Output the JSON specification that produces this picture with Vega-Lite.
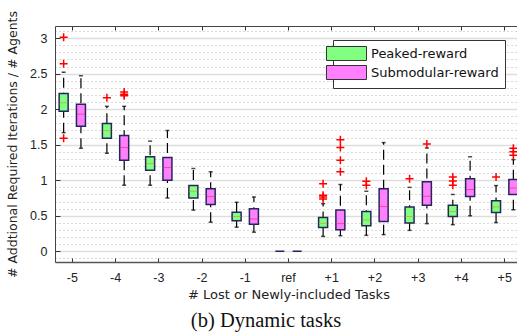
{
  "$schema": "https://vega.github.io/schema/vega-lite/v6.json",
  "width": 462,
  "height": 236,
  "autosize": {"type": "none"},
  "padding": {"left": 55, "top": 26, "right": 0, "bottom": 73},
  "background": "white",
  "config": {"view": {"stroke": null}},
  "title": {"text": "(b) Dynamic tasks", "orient": "bottom", "anchor": "middle", "font": "Liberation Serif", "fontSize": 20.5, "fontWeight": "normal", "color": "#111111", "offset": 9, "dx": -20},
  "datasets": {
    "boxes": [
      {"task": "-5", "series": "Peaked-reward", "lower": 1.67, "q1": 1.97, "median": 2.09, "q3": 2.22, "upper": 2.52},
      {"task": "-4", "series": "Peaked-reward", "lower": 1.38, "q1": 1.59, "median": 1.70, "q3": 1.80, "upper": 2.04},
      {"task": "-3", "series": "Peaked-reward", "lower": 0.93, "q1": 1.14, "median": 1.235, "q3": 1.33, "upper": 1.55},
      {"task": "-2", "series": "Peaked-reward", "lower": 0.58, "q1": 0.75, "median": 0.845, "q3": 0.925, "upper": 1.165},
      {"task": "-1", "series": "Peaked-reward", "lower": 0.34, "q1": 0.43, "median": 0.49, "q3": 0.55, "upper": 0.69},
      {"task": "ref", "series": "Peaked-reward", "lower": 0, "q1": 0, "median": 0, "q3": 0, "upper": 0},
      {"task": "+1", "series": "Peaked-reward", "lower": 0.21, "q1": 0.335, "median": 0.395, "q3": 0.475, "upper": 0.67},
      {"task": "+2", "series": "Peaked-reward", "lower": 0.225, "q1": 0.36, "median": 0.44, "q3": 0.56, "upper": 0.845},
      {"task": "+3", "series": "Peaked-reward", "lower": 0.295, "q1": 0.40, "median": 0.49, "q3": 0.625, "upper": 0.90},
      {"task": "+4", "series": "Peaked-reward", "lower": 0.375, "q1": 0.49, "median": 0.56, "q3": 0.65, "upper": 0.80},
      {"task": "+5", "series": "Peaked-reward", "lower": 0.405, "q1": 0.545, "median": 0.625, "q3": 0.71, "upper": 0.925},
      {"task": "-5", "series": "Submodular-reward", "lower": 1.45, "q1": 1.76, "median": 1.93, "q3": 2.07, "upper": 2.47},
      {"task": "-4", "series": "Submodular-reward", "lower": 0.93, "q1": 1.28, "median": 1.46, "q3": 1.63, "upper": 2.04},
      {"task": "-3", "series": "Submodular-reward", "lower": 0.75, "q1": 1.00, "median": 1.18, "q3": 1.32, "upper": 1.70},
      {"task": "-2", "series": "Submodular-reward", "lower": 0.41, "q1": 0.66, "median": 0.77, "q3": 0.88, "upper": 1.12},
      {"task": "-1", "series": "Submodular-reward", "lower": 0.27, "q1": 0.38, "median": 0.455, "q3": 0.60, "upper": 0.765},
      {"task": "ref", "series": "Submodular-reward", "lower": 0, "q1": 0, "median": 0, "q3": 0, "upper": 0},
      {"task": "+1", "series": "Submodular-reward", "lower": 0.22, "q1": 0.305, "median": 0.39, "q3": 0.58, "upper": 0.94},
      {"task": "+2", "series": "Submodular-reward", "lower": 0.235, "q1": 0.42, "median": 0.63, "q3": 0.88, "upper": 1.53},
      {"task": "+3", "series": "Submodular-reward", "lower": 0.39, "q1": 0.65, "median": 0.775, "q3": 0.98, "upper": 1.455},
      {"task": "+4", "series": "Submodular-reward", "lower": 0.50, "q1": 0.77, "median": 0.87, "q3": 1.02, "upper": 1.33},
      {"task": "+5", "series": "Submodular-reward", "lower": 0.585, "q1": 0.80, "median": 0.89, "q3": 1.01, "upper": 1.29}
    ],
    "outliers": [
      {"task": "-5", "series": "Peaked-reward", "value": 3.01},
      {"task": "-5", "series": "Peaked-reward", "value": 2.64},
      {"task": "-5", "series": "Peaked-reward", "value": 1.59},
      {"task": "-4", "series": "Peaked-reward", "value": 2.16},
      {"task": "-4", "series": "Submodular-reward", "value": 2.24},
      {"task": "-4", "series": "Submodular-reward", "value": 2.21},
      {"task": "-4", "series": "Submodular-reward", "value": 2.19},
      {"task": "+1", "series": "Peaked-reward", "value": 0.95},
      {"task": "+1", "series": "Peaked-reward", "value": 0.79},
      {"task": "+1", "series": "Peaked-reward", "value": 0.765},
      {"task": "+1", "series": "Peaked-reward", "value": 0.735},
      {"task": "+1", "series": "Submodular-reward", "value": 1.57},
      {"task": "+1", "series": "Submodular-reward", "value": 1.46},
      {"task": "+1", "series": "Submodular-reward", "value": 1.28},
      {"task": "+1", "series": "Submodular-reward", "value": 1.12},
      {"task": "+2", "series": "Peaked-reward", "value": 0.985},
      {"task": "+2", "series": "Peaked-reward", "value": 0.93},
      {"task": "+3", "series": "Peaked-reward", "value": 1.02},
      {"task": "+3", "series": "Submodular-reward", "value": 1.51},
      {"task": "+4", "series": "Peaked-reward", "value": 1.045},
      {"task": "+4", "series": "Peaked-reward", "value": 0.99},
      {"task": "+4", "series": "Peaked-reward", "value": 0.93},
      {"task": "+5", "series": "Peaked-reward", "value": 1.045},
      {"task": "+5", "series": "Submodular-reward", "value": 1.45},
      {"task": "+5", "series": "Submodular-reward", "value": 1.40},
      {"task": "+5", "series": "Submodular-reward", "value": 1.35}
    ]
  },
  "resolve": {"axis": {"x": "independent", "y": "independent"}},
  "layer": [
    {
      "data": {"name": "boxes"},
      "mark": {"type": "rule", "color": "black", "strokeWidth": 1.2, "strokeDash": [10, 5]},
      "encoding": {
        "x": {"field": "task", "type": "nominal", "sort": ["-5","-4","-3","-2","-1","ref","+1","+2","+3","+4","+5"],
          "scale": {"domain": ["-5","-4","-3","-2","-1","ref","+1","+2","+3","+4","+5"], "range": [0, 467], "paddingInner": 0.2, "paddingOuter": 0},
          "axis": {"orient": "top", "labels": false, "title": null, "bandPosition": 0.5, "tickSize": -4, "tickColor": "#333333", "domainColor": "#444444", "domainWidth": 1, "grid": false}},
        "xOffset": {"field": "series", "type": "nominal", "scale": {"paddingInner": 0.4, "paddingOuter": 0.2}},
        "y": {"field": "lower", "type": "quantitative", "scale": {"domain": [-0.15, 3.17], "nice": false, "zero": false}, "axis": null},
        "y2": {"field": "upper"}
      }
    },
    {
      "data": {"name": "boxes"},
      "mark": {"type": "bar", "width": 9, "stroke": "#26265c", "strokeWidth": 1.5},
      "encoding": {
        "x": {"field": "task", "type": "nominal", "sort": ["-5","-4","-3","-2","-1","ref","+1","+2","+3","+4","+5"],
          "axis": {"orient": "bottom", "title": "# Lost or Newly-included Tasks", "bandPosition": 0.5, "labelAngle": 0, "tickSize": -4, "tickColor": "#333333", "domainColor": "#555555", "domainWidth": 1.5, "labelFont": "Liberation Sans", "labelFontSize": 12.5, "labelColor": "#222222", "labelPadding": 13, "titleFont": "DejaVu Sans", "titleFontSize": 13, "titleFontWeight": "normal", "titleColor": "#222222", "titlePadding": 5, "grid": false}},
        "xOffset": {"field": "series", "type": "nominal"},
        "y": {"field": "q1", "type": "quantitative",
          "axis": {"orient": "left", "title": "# Addtional Required Iterations / # Agents",
            "values": [-0.1, 0, 0.1, 0.2, 0.3, 0.4, 0.5, 0.6, 0.7, 0.8, 0.9, 1, 1.1, 1.2, 1.3, 1.4, 1.5, 1.6, 1.7, 1.8, 1.9, 2, 2.1, 2.2, 2.3, 2.4, 2.5, 2.6, 2.7, 2.8, 2.9, 3, 3.1],
            "labelExpr": "abs(datum.value*2 - round(datum.value*2)) < 0.001 ? format(datum.value, '~g') : ''",
            "tickSize": -5, "tickColor": "#333333",
            "tickOpacity": {"condition": {"test": "abs(datum.value*2 - round(datum.value*2)) < 0.001", "value": 1}, "value": 0},
            "domainColor": "#444444", "domainWidth": 1,
            "labelFont": "Liberation Sans", "labelFontSize": 12.5, "labelColor": "#222222", "labelPadding": 13,
            "titleFont": "DejaVu Sans", "titleFontSize": 12.5, "titleFontWeight": "normal", "titleColor": "#222222", "titlePadding": 10,
            "grid": true,
            "gridColor": {"condition": {"test": "abs(datum.value*2 - round(datum.value*2)) < 0.001", "value": "#dddddd"}, "value": "#b4b4b4"},
            "gridDash": {"condition": {"test": "abs(datum.value*2 - round(datum.value*2)) < 0.001", "value": []}, "value": [1, 3]},
            "gridWidth": {"condition": {"test": "abs(datum.value*2 - round(datum.value*2)) < 0.001", "value": 1.5}, "value": 1}
          }},
        "y2": {"field": "q3"},
        "fill": {"field": "series", "type": "nominal",
          "scale": {"domain": ["Peaked-reward", "Submodular-reward"], "range": ["#80ff80", "#ff80ff"]},
          "legend": {"orient": "none", "legendX": 278, "legendY": 14, "title": null,
            "symbolType": "M-2.86,-1H2.86V1H-2.86Z", "symbolSize": 196, "symbolStrokeColor": "#333333", "symbolStrokeWidth": 1, "symbolOpacity": 1,
            "labelFont": "DejaVu Sans", "labelFontSize": 13, "labelColor": "#111111", "labelOffset": 17, "rowPadding": 0,
            "padding": 6, "strokeColor": "#333333", "fillColor": "white"}}
      }
    },
    {
      "data": {"name": "boxes"},
      "transform": [{"filter": "datum.task != 'ref'"}],
      "mark": {"type": "tick", "orient": "horizontal", "size": 8, "thickness": 1},
      "encoding": {
        "x": {"field": "task", "type": "nominal", "axis": null},
        "xOffset": {"field": "series", "type": "nominal"},
        "y": {"field": "median", "type": "quantitative", "axis": null},
        "color": {"field": "series", "type": "nominal", "scale": {"domain": ["Peaked-reward", "Submodular-reward"], "range": ["#c0a040", "#ff2a70"]}, "legend": null}
      }
    },
    {
      "data": {"name": "boxes"},
      "transform": [{"filter": "datum.task != 'ref'"}],
      "mark": {"type": "tick", "orient": "horizontal", "size": 4, "thickness": 1.5, "color": "black"},
      "encoding": {
        "x": {"field": "task", "type": "nominal", "axis": null},
        "xOffset": {"field": "series", "type": "nominal"},
        "y": {"field": "upper", "type": "quantitative", "axis": null}
      }
    },
    {
      "data": {"name": "boxes"},
      "transform": [{"filter": "datum.task != 'ref'"}],
      "mark": {"type": "tick", "orient": "horizontal", "size": 4, "thickness": 1.5, "color": "black"},
      "encoding": {
        "x": {"field": "task", "type": "nominal", "axis": null},
        "xOffset": {"field": "series", "type": "nominal"},
        "y": {"field": "lower", "type": "quantitative", "axis": null}
      }
    },
    {
      "data": {"name": "outliers"},
      "mark": {"type": "point", "shape": "M-1,0H1M0,-1V1", "size": 64, "filled": false, "stroke": "#ff0000", "strokeWidth": 1.5, "opacity": 1},
      "encoding": {
        "x": {"field": "task", "type": "nominal", "axis": null},
        "xOffset": {"field": "series", "type": "nominal"},
        "y": {"field": "value", "type": "quantitative", "axis": null}
      }
    }
  ]
}
